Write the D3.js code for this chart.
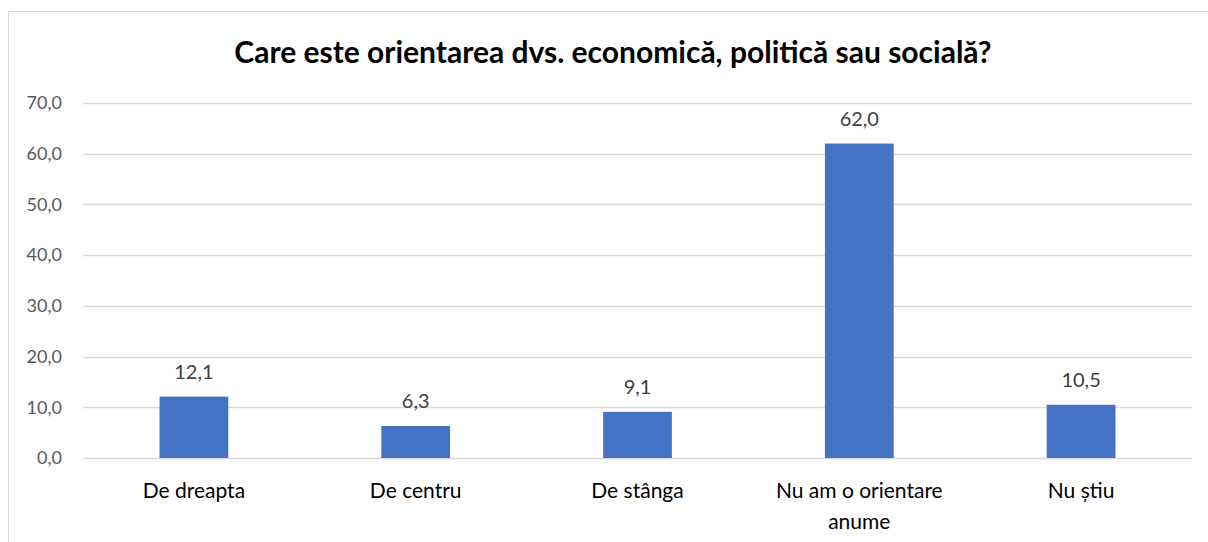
<!DOCTYPE html>
<html>
<head>
<meta charset="utf-8">
<script src="https://cdn.jsdelivr.net/npm/d3@7"></script>
<style>
  body { margin: 0; background: #fff; }
  svg { font-family: Lato, "Open Sans", sans-serif; }
</style>
</head>
<body>
<div id="chart"></div>
<script>
/* DATA */
const categories = ["De dreapta", "De centru", "De stânga", "Nu am o orientare anume", "Nu știu"];
const values = [12.1, 6.3, 9.1, 62.0, 10.5];
const yTicks = [0, 10, 20, 30, 40, 50, 60, 70];
const title = "Care este orientarea dvs. economică, politică sau socială?";

const width = 1208, height = 542,
  margin = { top: 103, bottom: 84, left: 83, right: 16 };

const fmt = d => d.toFixed(1).replace(".", ",");

const svg = d3.select("#chart").append("svg")
  .attr("width", width)
  .attr("height", height);

// chart frame
svg.append("rect")
  .attr("x", 8.5).attr("y", 11.5)
  .attr("width", width + 20).attr("height", height + 20)
  .attr("fill", "none")
  .attr("stroke", "#d9d9d9");

const xScale = d3.scaleBand()
  .domain(categories)
  .range([margin.left, width - margin.right]);

const yScale = d3.scaleLinear()
  .domain([0, 70])
  .range([height - margin.bottom, margin.top]);

// gridlines
svg.append("g")
  .selectAll("line")
  .data(yTicks)
  .join("line")
  .attr("x1", margin.left)
  .attr("x2", width - margin.right)
  .attr("y1", d => Math.round(yScale(d)) + 0.5)
  .attr("y2", d => Math.round(yScale(d)) + 0.5)
  .attr("stroke", "#d9d9d9")
  .attr("stroke-width", 1.3);

// y axis labels
const yAxis = d3.axisLeft(yScale).tickValues(yTicks).tickFormat(fmt).tickSize(0).tickPadding(21);
svg.append("g")
  .attr("transform", `translate(${margin.left},0)`)
  .call(yAxis)
  .call(g => g.select(".domain").remove())
  .call(g => g.selectAll("text")
    .attr("fill", "#595959")
    .style("font-size", "18px")
    .style("font-family", "Lato, 'Open Sans', sans-serif"));

// bars
const barW = xScale.bandwidth() * 0.31;
svg.append("g")
  .selectAll("rect")
  .data(values)
  .join("rect")
  .attr("x", (d, i) => xScale(categories[i]) + xScale.bandwidth() / 2 - barW / 2)
  .attr("width", barW)
  .attr("y", d => yScale(d))
  .attr("height", d => yScale(0) - yScale(d))
  .attr("fill", "#4472c4");

// data labels
svg.append("g")
  .selectAll("text")
  .data(values)
  .join("text")
  .attr("x", (d, i) => xScale(categories[i]) + xScale.bandwidth() / 2)
  .attr("y", d => yScale(d) - 18)
  .attr("text-anchor", "middle")
  .attr("fill", "#404040")
  .style("font-size", "20px")
  .text(fmt);

// category labels (wrapped)
const catLines = [["De dreapta"], ["De centru"], ["De stânga"], ["Nu am o orientare", "anume"], ["Nu știu"]];
const catG = svg.append("g");
categories.forEach((c, i) => {
  const t = catG.append("text")
    .attr("x", xScale(c) + xScale.bandwidth() / 2)
    .attr("y", yScale(0) + 40)
    .attr("text-anchor", "middle")
    .attr("fill", "#000")
    .style("font-size", "21px");
  catLines[i].forEach((line, j) => {
    t.append("tspan")
      .attr("x", xScale(c) + xScale.bandwidth() / 2)
      .attr("dy", j === 0 ? 0 : 31)
      .text(line);
  });
});

// title
svg.append("text")
  .attr("x", 613)
  .attr("y", 63)
  .attr("text-anchor", "middle")
  .attr("fill", "#000")
  .style("font-size", "30px")
  .style("font-weight", "bold")
  .text(title);
</script>
</body>
</html>
